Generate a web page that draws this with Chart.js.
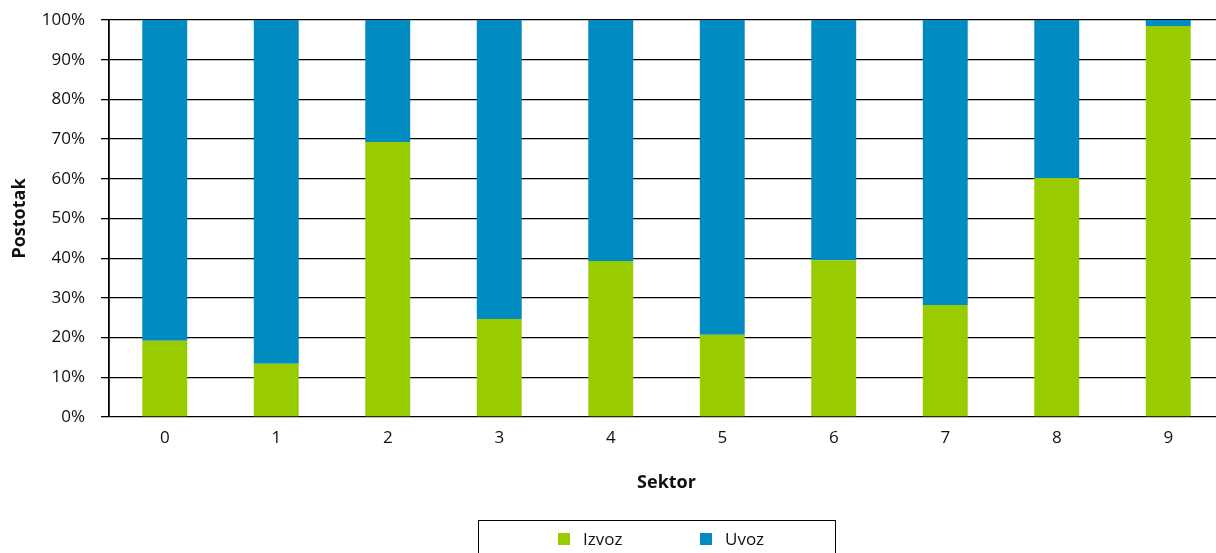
<!DOCTYPE html>
<html>
<head>
<meta charset="utf-8">
<script src="https://cdn.jsdelivr.net/npm/chart.js@4.4.1/dist/chart.umd.min.js"></script>
<style>
html,body{margin:0;padding:0;overflow:hidden;background:#fff;}
#wrap{width:1226px;height:553px;position:relative;}
canvas{display:block;}
</style>
</head>
<body>
<div id="wrap"><canvas id="c" width="1226" height="553"></canvas></div>
<script>
// ---- data ----
const categories = ['0', '1', '2', '3', '4', '5', '6', '7', '8', '9'];
const izvoz = [19.2, 13.4, 69.3, 24.7, 39.3, 20.7, 39.5, 28.2, 60.2, 98.5];
const uvoz  = [80.8, 86.6, 30.7, 75.3, 60.7, 79.3, 60.5, 71.8, 39.8, 1.5];
const seriesNames = ['Izvoz', 'Uvoz'];
const yTickValues = [0, 10, 20, 30, 40, 50, 60, 70, 80, 90, 100];
const xTitle = 'Sektor';
const yTitle = 'Postotak';

const GREEN = '#99cc00';
const BLUE = '#008cc1';
const FONT = '"Open Sans", "Noto Sans", sans-serif';

const legendBox = {
  id: 'legendBox',
  afterDraw(chart) {
    const ctx = chart.ctx;
    ctx.save();
    ctx.strokeStyle = '#000';
    ctx.lineWidth = 1;
    ctx.strokeRect(478.5, 520.5, 357, 40);
    ctx.font = '17px ' + FONT;
    ctx.textBaseline = 'middle';
    ctx.textAlign = 'left';
    const xs = [558, 700];
    chart.data.datasets.forEach((ds, i) => {
      const x = xs[i];
      ctx.fillStyle = ds.backgroundColor;
      ctx.fillRect(x, 533, 12, 12);
      ctx.fillStyle = '#111';
      ctx.fillText(ds.label, x + 25, 540);
    });
    ctx.restore();
  }
};

new Chart(document.getElementById('c'), {
  type: 'bar',
  data: {
    labels: categories,
    datasets: [
      { label: seriesNames[0], data: izvoz, backgroundColor: GREEN, borderWidth: 0 },
      { label: seriesNames[1], data: uvoz, backgroundColor: BLUE, borderWidth: 0 }
    ]
  },
  options: {
    responsive: false,
    animation: false,
    devicePixelRatio: 1,
    barPercentage: 0.403,
    categoryPercentage: 1,
    layout: { padding: { top: 20, right: 2, bottom: 59.2, left: 0 } },
    plugins: {
      legend: { display: false },
      tooltip: { enabled: false }
    },
    scales: {
      x: {
        stacked: true,
        afterFit(scale) { scale.height = 76.8; scale.paddingLeft = 0; scale.paddingRight = 0; },
        grid: { display: false, drawTicks: false, tickLength: 0 },
        border: { display: false },
        ticks: { color: '#111', font: { family: FONT, size: 17 }, padding: 10.5, maxRotation: 0 },
        title: { display: true, text: xTitle, color: '#111',
                 font: { family: FONT, size: 18, weight: 'bold' },
                 padding: { top: 23, bottom: 0 } }
      },
      y: {
        stacked: true,
        min: 0,
        max: 100,
        afterBuildTicks(scale) { scale.ticks = yTickValues.map(v => ({ value: v })); },
        afterFit(scale) { scale.width = 109; scale.paddingTop = 0; scale.paddingBottom = 0; },
        grid: { color: '#000', lineWidth: 1.3, tickLength: 8, drawTicks: true },
        border: { display: true, color: '#000', width: 1.8 },
        ticks: { color: '#111', font: { family: FONT, size: 17 }, padding: 16,
                 callback: v => v + '%' },
        title: { display: true, text: yTitle, color: '#111',
                 font: { family: FONT, size: 18, weight: 'bold' },
                 padding: { top: 9.5, bottom: 0 } }
      }
    }
  },
  plugins: [legendBox]
});
</script>
</body>
</html>
